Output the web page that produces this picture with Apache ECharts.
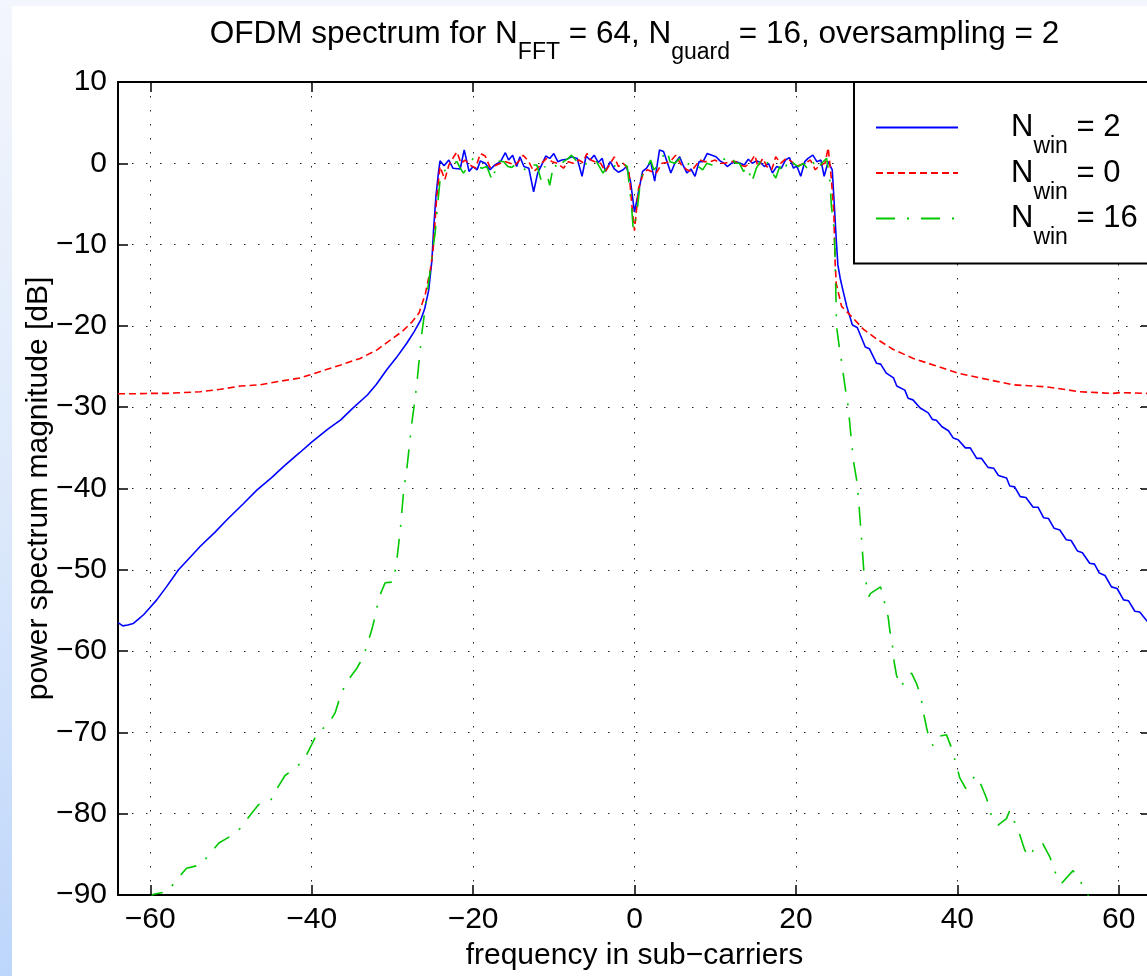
<!DOCTYPE html>
<html>
<head>
<meta charset="utf-8">
<title>OFDM spectrum</title>
<script src="https://cdn.jsdelivr.net/npm/echarts@6/dist/echarts.min.js"></script>
<style>
  html, body {
    margin: 0;
    padding: 0;
    width: 1147px;
    height: 976px;
    overflow: hidden;
    background: linear-gradient(to bottom, #f3f6fc 0%, #dbe8fb 55%, #bdd6fb 100%);
  }
  #chart {
    position: absolute;
    left: 12px;
    top: 6px;
    width: 1245px;
    height: 970px;
    background: #fff;
  }
</style>
</head>
<body>
<div id="chart"></div>
<script>
// tick positions on the frequency axis
var xTicks = [-60, -40, -20, 0, 20, 40, 60];
var winLabels = ['2', '0', '16'];

// N_win = 2 (blue, solid)
var blueFreq = [-64, -63.4, -62.8, -62.1, -61.5, -60.8, -60, -59.2, -58, -56.5, -55, -53.8, -52, -50.5, -48.5,
    -46.8, -45, -43.5, -41.5, -40, -38, -36.4, -35, -33.1, -32, -30.7, -29.5, -28.2, -27.3, -26.5, -26, -25.5,
    -25.1, -24.9, -24.6, -24.3, -24.1, -23.6, -23, -22.5, -21.6, -21.1, -20.5, -20, -19.5, -19.1, -18.5, -17.9,
    -17.3, -16.6, -16, -15.6, -15.1, -14.6, -14.2, -13.7, -13.1, -12.5, -12, -11.5, -11, -10.5, -10, -9.5, -9,
    -8.4, -7.8, -7.1, -6.5, -6, -5.5, -5, -4.5, -4, -3.6, -3, -2.5, -2, -1.4, -1, -0.5, 0, 0.5, 1, 1.5, 2, 2.5,
    3.1, 3.6, 4.1, 4.5, 5, 5.6, 6, 6.5, 7, 7.5, 8, 8.5, 9, 9.6, 10.1, 10.6, 11.1, 11.5, 12, 12.6, 13.1, 13.6,
    14.1, 14.6, 15.1, 15.6, 16.1, 16.6, 17.1, 17.6, 18.2, 18.7, 19.2, 19.7, 20.1, 20.6, 21.1, 21.5, 22.1, 22.6,
    23.1, 23.5, 24, 24.5, 24.7, 25, 25.2, 25.5, 25.8, 26.3, 27, 27.6, 28.6, 29.1, 30, 30.5, 31.2, 32.1, 32.5,
    33.5, 33.9, 34.5, 35.4, 36.4, 36.9, 37.4, 38.1, 38.9, 39.5, 40.1, 41, 41.6, 42.4, 43, 43.8, 44.5, 45.1,
    46.1, 46.5, 47.1, 47.8, 48.5, 49.4, 50, 50.7, 51.3, 52, 52.7, 53.5, 54.1, 54.9, 55.5, 56.4, 57, 57.6, 58.3,
    59.1, 59.8, 60.6, 61.2, 62, 62.6, 63.5, 64];
var blueDb = [-56.5, -56.9, -56.8, -56.6, -56.1, -55.5, -54.6, -53.7, -52.1, -50, -48.4, -47.1, -45.4, -43.85, -41.9,
    -40.2, -38.7, -37.3, -35.6, -34.3, -32.7, -31.55, -30.2, -28.5, -27.2, -25.4, -23.9, -22.1, -20.7, -19.3, -17.9, -15.6,
    -11.9, -8.2, -4, -1.2, 0.3, -0.3, 0.4, -0.6, -0.7, 1.65, -1, -0.4, -0.8, 0.3, 0, -0.8,
    -0.2, 0.2, 1.3, 0.4, 1, -0.4, 0.8, -0.4, -0.6, -3.5, -1.2, -0.2, 0.9, 0.6, 1.2, 0.2, 0.4,
    0.5, 0.8, 0.6, -1.6, 0.9, 0.4, 1, 0.1, 0.6, -1, 0.2, -0.7, -1.1, -0.8, -0.4, -2.2, -6, -3.5, -1, -0.6, 0.2, -2.2,
    1.65, 1.45, 0, -1.2, 0, 0.8, -0.2, -1.2, -0.7, -1.6, 0.2, 0.2, 1.2, 1, 0.8, 0.3, 0, -0.4, 0, 0.2, 0, -0.2,
    0.5, 0, 0.3, 0.1, -0.4, 0, -1.2, -0.4, -0.6, 0.4, 0.7, -0.6, -0.3, -1.6, 0.2, 0.6, 1, 0.2,
    0.4, -1.6, 0.2, -0.8, -4.1, -9.4, -12.5, -14.2, -15.5, -17.6, -19.9, -20.2, -22.6, -22.8, -24.6, -24.7, -25.8, -26.4, -27.4,
    -27.9, -28.9, -29.1, -30.1, -30.7, -31.5, -31.6, -32.4, -32.9, -33.8, -34, -35, -35, -36.3, -36.3, -37.4, -37.5, -38.4,
    -38.7, -39.7, -39.8, -41, -41.1, -42.3, -42.3, -43.6, -43.7, -44.9, -45.1, -46.3, -46.4, -47.7, -47.9, -49.2, -49.3, -50.4, -50.7,
    -52.1, -52.3, -53.7, -53.8, -55.1, -55.2, -56.3, -56.6];

// N_win = 0 (red, dashed)
var redFreq = [-64, -62, -60, -58, -55.9, -53.8, -51.3, -48.8, -46.4, -43.9, -41.4, -38.9, -36.4, -34, -31.9,
    -30.2, -28.8, -27.55, -26.7, -25.9, -25.3, -24.95, -24.5, -24.1, -23.5, -23, -22.4, -22, -21.5, -21, -20.4,
    -19.7, -19.1, -18.5, -17.9, -17.3, -16.6, -16, -15.4, -14.8, -14.2, -13.8, -13.1, -12.5, -12, -11.5, -10.9,
    -10.2, -9.6, -8.8, -8.2, -7.6, -6.9, -6.4, -5.9, -5.4, -4.9, -4.2, -3.6, -3.1, -2.5, -2, -1.4, -0.7, -0.35,
    0, 0.5, 1.1, 1.6, 2.1, 2.7, 3.4, 4, 4.6, 5.1, 5.8, 6.5, 7, 7.5, 8.1, 8.7, 9.4, 10, 10.6, 11.2, 11.8, 12.5,
    13.1, 13.7, 14.3, 14.9, 15.3, 15.9, 16.4, 17, 17.5, 18.1, 18.8, 19.5, 20, 20.5, 21.1, 21.8, 22.4, 23, 23.6,
    24, 24.4, 24.7, 24.85, 25, 25.66, 26.9, 28.35, 30, 32.07, 34.55, 37, 40.05, 42.8, 46.95, 51.1, 55.2, 59.3,
    60.2, 63.5, 64];
var redDb = [-28.35, -28.35, -28.3, -28.3, -28.2, -28.1, -27.8, -27.4, -27.25, -26.8, -26.4, -25.6, -24.8, -24, -22.95,
    -21.7, -20.7, -19.5, -18.4, -16, -13.1, -10.6, -4.1, -0.4, -2, -0.2, 0.8, 1.4, 0, 0.4, -0.2,
    -0.6, 1.2, 0.9, -0.5, -0.3, 0, 0.2, 0, -0.2, 0.4, 1, 0.2, -1, -0.6, 0, 0.6,
    0.2, 0, -0.6, 0.2, 0, 0.4, 0.1, 1.2, 0.4, 0.2, 0, -1, -0.2, 0.8, -0.4, 0, -0.8, -4.9,
    -8.3, -3.1, -1.2, -0.8, -1, -1.2, 0, 0.1, 0.4, 1, -0.2, -0.8, -1, -0.4, 0.4, 0.2, 0.2, 0.4, 0, 0, 0.2, 0.2,
    -0.2, -0.4, 0, 1, -0.4, 0.6, -0.4, -0.8, 0.8, 0, 0.6, 0.2, -0.4, -0.2, 0, 0.4, -0.8, -0.2, 0,
    1.9, -2, -6.1, -12, -14.8, -17.6, -18.85, -20.4, -21.6, -22.9, -24, -24.8, -25.8, -26.4, -27.25, -27.5, -28.1, -28.3,
    -28.2, -28.3, -28.35];

// N_win = 16 (green, dash-dot)
var greenFreq = [-64, -61, -59.6, -57.9, -56.7, -55.5, -53.8, -52.6, -51.5, -50.1, -48.85, -47.8, -46.6, -45.1, -44.3,
    -43.3, -42, -40.9, -40.1, -39.2, -38, -37.1, -36.5, -35.8, -34.4, -33.6, -33, -32.5, -32, -31.7, -30.9, -29.9,
    -29.45, -29, -28.6, -28.2, -27.6, -27.2, -26.9, -26.35, -25.8, -25.3, -25, -24.7, -24.3, -24, -23.6, -23, -22.5,
    -22, -21.7, -21.2, -20.6, -20, -19.5, -18.9, -18.3, -17.6, -17, -16.2, -15.7, -15.2, -14.6, -14, -13.3, -12.7,
    -12.1, -11.6, -11.1, -10.5, -10, -9.4, -8.8, -8.2, -7.8, -7.1, -6.5, -5.9, -5.3, -4.7, -3.9, -3.4, -2.8, -2.2,
    -1.6, -0.9, -0.35, -0.15, 0.06, 0.27, 0.7, 1.1, 1.6, 2, 2.4, 2.96, 3.6, 4, 4.4, 5, 5.6, 6.3, 6.8, 7.3, 7.9,
    8.45, 8.95, 9.6, 10.2, 10.8, 11.4, 11.9, 12.5, 13, 13.5, 14.1, 14.5, 15.1, 15.6, 16.2, 16.7, 17.5, 18, 18.5,
    19.1, 19.7, 20.3, 20.9, 21.4, 22, 22.6, 23.2, 23.8, 24.2, 24.4, 24.7, 24.83, 25.04, 25.36, 25.66, 26.15, 26.48,
    26.81, 27.18, 27.52, 27.8, 28.14, 28.42, 28.76, 29.04, 29.25, 30.49, 30.9, 31.43, 31.64, 31.93, 32.17, 32.47,
    33.09, 33.5, 34.33, 34.95, 35.48, 35.85, 36.19, 36.59, 37, 37.62, 38.66, 39.28, 39.9, 40.31, 41.05, 41.76,
    42.38, 43, 43.62, 44.24, 45.05, 46.09, 46.5, 47.12, 47.74, 48.36, 48.98, 49.39, 50.55, 51.46, 52.07, 52.9,
    54.34, 55.17, 56, 57.5, 64];
var greenDb = [-95, -91.5, -89.9, -89.6, -88.1, -86.7, -86.3, -84.9, -83.6, -82.8, -81.8, -80.4, -78.9, -78.4, -76.9,
    -75.3, -74.4, -73.3, -71.7, -69.9, -69.1, -67.6, -65.7, -64, -62.1, -60.7, -58.8, -57.2, -55.1, -53.5, -51.6, -51.5,
    -48.8, -44.9, -40.2, -37.5, -32, -29.1, -26.4, -20.9, -16.8, -13.1, -10.6, -8.6, -4.1, -1.2, -1, -0.4, 0,
    0.2, -0.4, -1.2, -0.4, 0.6, -0.4, -0.6, -0.4, -2.2, 0.3, 0.2, -0.4, -0.5, 0, -0.4, -1, -0.2,
    -0.2, -2, -0.4, -2.7, 0, -0.8, 0.2, 0.6, 1, 0.2, -0.4, 0, 0.6, 0.2, -1.2, -0.4, -0.8, 0,
    0.2, -0.4, -5.5, -8.2, -8.4, -6.3, -2.5, -1, -0.4, 0.4, -0.8, -0.2, 1, 1.65, 0.2, 0, 0.6, -0.4, 0, -0.6, -0.4,
    -0.8, 0, -0.2, 0.2, 0.4, 0.6, 1, 0, 0, -1, -0.4, -2.4, -0.6, 0.2, 0.8, -0.6, -1.8, -0.4, -1.2,
    0.6, 0, -0.4, 0, -0.6, 0.4, -0.8, 0, 0.6, -2, -5.3, -7.8, -10.6, -20.1, -22.5, -24.4, -27.9, -29.9,
    -33.4, -36.9, -38.9, -41.8, -46.3, -50.2, -51.9, -53.3, -52.9, -52.1, -53.7, -55.8, -57.5, -59, -61.3, -63,
    -64.4, -63.4, -62.7, -64, -65.6, -67.8, -69.4, -71.1, -71.6, -70.5, -70.3, -71.9, -74.1, -75.6, -76.9, -75.8,
    -75.3, -76.6, -78.1, -80.3, -81.4, -80.6, -79.6, -81.1, -82.6, -84.5, -85.3, -84.5, -83.6, -85.3, -87.1, -88.6,
    -87, -88.2, -89.7, -92, -99];

var FONT = "'Liberation Sans', Arial, Helvetica, sans-serif";

function pairs(freq, db) {
    return freq.map(function (f, i) { return [f, db[i]]; });
}

function minusSign(v) {
    return String(v).replace('-', '\u2212');
}

// n = normal text, m = normal text pushed right (legend), s = subscript
function makeRich(size, subSize, subDrop) {
    return {
        n: { fontSize: size, lineHeight: 30, verticalAlign: 'middle', fontWeight: 'normal', fontFamily: FONT, color: '#000' },
        m: { fontSize: size, lineHeight: 30, verticalAlign: 'middle', fontWeight: 'normal', fontFamily: FONT, color: '#000', padding: [0, 0, 0, 48] },
        s: { fontSize: subSize, lineHeight: 4, verticalAlign: 'top', padding: [subDrop, 0, 0, 0], fontWeight: 'normal', fontFamily: FONT, color: '#000' }
    };
}

var mychart = echarts.init(document.getElementById('chart'));

var axisLineStyle = { color: '#000', width: 2 };
var tickStyle = { color: '#000', width: 1.5 };
var gridDots = { color: '#222', width: 1, type: [1.5, 12.5] };

var option = {
    animation: false,
    backgroundColor: '#fff',
    title: {
        text: '{n|OFDM spectrum for N}{s|FFT}{n| = 64, N}{s|guard}{n| = 16, oversampling = 2}',
        left: 'center',
        top: 13,
        padding: 0,
        textStyle: { fontWeight: 'normal', rich: makeRich(31.5, 23, 22) }
    },
    legend: {
        orient: 'vertical',
        left: 842,
        top: 76,
        padding: [30, 24, 14, 21],
        itemWidth: 82,
        itemHeight: 14,
        itemGap: -1,
        backgroundColor: '#fff',
        borderColor: '#000',
        borderWidth: 2,
        borderRadius: 0,
        selectedMode: false,
        itemStyle: { opacity: 0 },
        formatter: function (name) {
            var k = ['N_win = 2', 'N_win = 0', 'N_win = 16'].indexOf(name);
            return '{m|N}{s|win}{n| = ' + winLabels[k] + '}';
        },
        textStyle: { rich: makeRich(31, 23, 23) }
    },
    grid: { left: 106, right: 106, top: 76, bottom: 81, outerBoundsMode: 'none' },
    xAxis: [{
        type: 'value',
        min: -64,
        max: 64,
        position: 'bottom',
        name: 'frequency in sub\u2212carriers',
        nameLocation: 'middle',
        nameGap: 46,
        nameMoveOverlap: false,
        nameTextStyle: { color: '#000', fontSize: 30, fontFamily: FONT },
        axisLine: { onZero: false, lineStyle: axisLineStyle },
        axisTick: { inside: true, length: 10, lineStyle: tickStyle, customValues: xTicks },
        axisLabel: {
            customValues: xTicks, margin: 10, color: '#000', fontSize: 30, fontFamily: FONT,
            formatter: minusSign
        },
        splitLine: { show: true, lineStyle: gridDots }
    }, {
        type: 'value',
        min: -64,
        max: 64,
        position: 'top',
        axisLine: { onZero: false, lineStyle: axisLineStyle },
        axisTick: { inside: true, length: 10, lineStyle: tickStyle, customValues: xTicks },
        axisLabel: { show: false },
        splitLine: { show: false }
    }],
    yAxis: [{
        type: 'value',
        min: -90,
        max: 10,
        interval: 10,
        position: 'left',
        name: 'power spectrum magnitude [dB]',
        nameLocation: 'middle',
        nameRotate: 90,
        nameGap: 64,
        nameMoveOverlap: false,
        nameTextStyle: { color: '#000', fontSize: 30, fontFamily: FONT },
        axisLine: { onZero: false, lineStyle: axisLineStyle },
        axisTick: { inside: true, length: 10, lineStyle: tickStyle },
        axisLabel: { margin: 11, color: '#000', fontSize: 30, fontFamily: FONT, formatter: minusSign },
        splitLine: { show: true, lineStyle: gridDots }
    }, {
        type: 'value',
        min: -90,
        max: 10,
        interval: 10,
        position: 'right',
        axisLine: { onZero: false, lineStyle: axisLineStyle },
        axisTick: { inside: true, length: 10, lineStyle: tickStyle },
        axisLabel: { show: false },
        splitLine: { show: false }
    }],
    series: [{
        name: 'N_win = 2',
        type: 'line',
        symbol: 'none',
        clip: true,
        data: pairs(blueFreq, blueDb),
        lineStyle: { color: '#0000ff', width: 1.6, type: 'solid' },
        itemStyle: { color: '#0000ff' }
    }, {
        name: 'N_win = 0',
        type: 'line',
        symbol: 'none',
        clip: true,
        data: pairs(redFreq, redDb),
        lineStyle: { color: '#ff0000', width: 1.6, type: [7, 4] },
        itemStyle: { color: '#ff0000' }
    }, {
        name: 'N_win = 16',
        type: 'line',
        symbol: 'none',
        clip: true,
        data: pairs(greenFreq, greenDb),
        lineStyle: { color: '#00c800', width: 1.6, type: [19, 12, 2, 12] },
        itemStyle: { color: '#00c800' }
    }]
};

mychart.setOption(option);
</script>
</body>
</html>
